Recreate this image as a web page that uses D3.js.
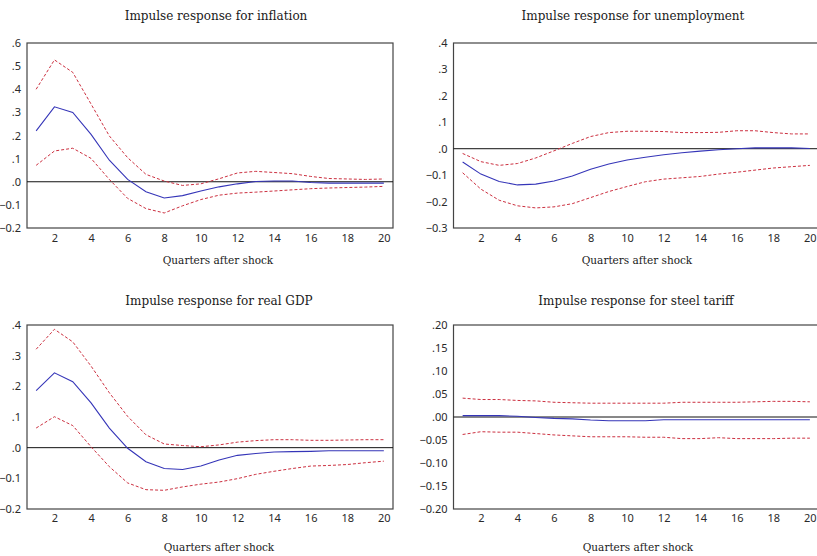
<!DOCTYPE html>
<html>
<head>
<meta charset="utf-8">
<script src="https://cdn.jsdelivr.net/npm/d3@7"></script>
<style>
  html, body { margin: 0; padding: 0; background: #fff; }
  svg { display: block; }
</style>
</head>
<body>
<svg id="chart" width="817" height="556"></svg>
<script>
// ---- data ----
const quarters = d3.range(1, 21);
const xTicks = [2, 4, 6, 8, 10, 12, 14, 16, 18, 20];

const titles = [
  "Impulse response for inflation",
  "Impulse response for unemployment",
  "Impulse response for real GDP",
  "Impulse response for steel tariff"
];
const xLabel = "Quarters after shock";

const inflationMid   = [0.22, 0.324, 0.30, 0.205, 0.093, 0.01, -0.043, -0.07, -0.06, -0.04, -0.022, -0.009, 0.001, 0.003, 0.003, -0.003, -0.006, -0.006, -0.006, -0.006];
const inflationUpper = [0.40, 0.527, 0.473, 0.336, 0.198, 0.104, 0.032, 0.003, -0.016, -0.009, 0.013, 0.038, 0.045, 0.04, 0.035, 0.023, 0.014, 0.012, 0.01, 0.012];
const inflationLower = [0.071, 0.133, 0.145, 0.101, 0.01, -0.072, -0.116, -0.135, -0.104, -0.077, -0.058, -0.049, -0.045, -0.04, -0.035, -0.03, -0.027, -0.025, -0.023, -0.02];

const unempMid   = [-0.05, -0.096, -0.124, -0.137, -0.134, -0.122, -0.103, -0.078, -0.058, -0.043, -0.032, -0.023, -0.015, -0.009, -0.004, 0.0, 0.003, 0.003, 0.003, 0.001];
const unempUpper = [-0.018, -0.049, -0.063, -0.056, -0.035, -0.008, 0.02, 0.046, 0.061, 0.066, 0.066, 0.065, 0.061, 0.061, 0.062, 0.068, 0.068, 0.061, 0.056, 0.056];
const unempLower = [-0.091, -0.153, -0.195, -0.216, -0.224, -0.22, -0.208, -0.185, -0.162, -0.143, -0.125, -0.115, -0.11, -0.105, -0.096, -0.089, -0.081, -0.073, -0.068, -0.063];

const gdpMid   = [0.186, 0.244, 0.215, 0.146, 0.064, -0.002, -0.046, -0.068, -0.071, -0.06, -0.04, -0.025, -0.019, -0.014, -0.013, -0.012, -0.01, -0.01, -0.01, -0.01];
const gdpUpper = [0.321, 0.386, 0.345, 0.266, 0.179, 0.102, 0.042, 0.012, 0.007, 0.003, 0.009, 0.018, 0.023, 0.026, 0.026, 0.024, 0.024, 0.025, 0.026, 0.026];
const gdpLower = [0.064, 0.101, 0.072, 0.003, -0.062, -0.115, -0.137, -0.139, -0.128, -0.119, -0.112, -0.101, -0.087, -0.077, -0.068, -0.06, -0.058, -0.055, -0.049, -0.044];

const steelMid   = [0.003, 0.003, 0.003, 0.0015, -0.001, -0.003, -0.004, -0.0065, -0.008, -0.008, -0.008, -0.006, -0.006, -0.006, -0.006, -0.006, -0.006, -0.006, -0.006, -0.006];
const steelUpper = [0.041, 0.038, 0.038, 0.036, 0.035, 0.032, 0.031, 0.030, 0.030, 0.030, 0.030, 0.030, 0.032, 0.032, 0.032, 0.032, 0.033, 0.034, 0.034, 0.033];
const steelLower = [-0.038, -0.032, -0.033, -0.033, -0.036, -0.039, -0.041, -0.043, -0.043, -0.043, -0.044, -0.044, -0.047, -0.047, -0.045, -0.047, -0.047, -0.047, -0.046, -0.046];

const yTicks1 = [-0.2, -0.1, 0, 0.1, 0.2, 0.3, 0.4, 0.5, 0.6];
const yTicks2 = [-0.3, -0.2, -0.1, 0, 0.1, 0.2, 0.3, 0.4];
const yTicks3 = [-0.2, -0.1, 0, 0.1, 0.2, 0.3, 0.4];
const yTicks4 = [-0.20, -0.15, -0.10, -0.05, 0, 0.05, 0.10, 0.15, 0.20];

// ---- panel build ----
const panels = [
  { title: titles[0], mid: inflationMid, up: inflationUpper, lo: inflationLower, ticks: yTicks1, dec: 1,
    box: { x0: 27, x1: 393, y0: 43, y1: 228 }, titleX: 216, titleY: 20, labelX: 218, labelY: 264, tickY: 243 },
  { title: titles[1], mid: unempMid, up: unempUpper, lo: unempLower, ticks: yTicks2, dec: 1,
    box: { x0: 453.5, x1: 819, y0: 43, y1: 228 }, titleX: 633, titleY: 20, labelX: 637, labelY: 264, tickY: 243 },
  { title: titles[2], mid: gdpMid, up: gdpUpper, lo: gdpLower, ticks: yTicks3, dec: 1,
    box: { x0: 27, x1: 393, y0: 325, y1: 509 }, titleX: 219, titleY: 305, labelX: 219, labelY: 551, tickY: 523 },
  { title: titles[3], mid: steelMid, up: steelUpper, lo: steelLower, ticks: yTicks4, dec: 2,
    box: { x0: 453.5, x1: 819, y0: 325, y1: 509 }, titleX: 636, titleY: 305, labelX: 638, labelY: 551, tickY: 523 }
];

const svg = d3.select("#chart");
const serif = "'DejaVu Serif', 'Liberation Serif', serif";
const sans = "'Noto Sans', 'DejaVu Sans', sans-serif";

function fmt(v, dec) {
  let s = d3.format("." + dec + "f")(v);
  s = s.replace("-0.", "-.").replace(/^0\./, ".");
  return s;
}

panels.forEach(p => {
  const b = p.box;
  const x = d3.scaleLinear().domain([0.5, 20.5]).range([b.x0, b.x1]);
  const y = d3.scaleLinear().domain([p.ticks[0], p.ticks[p.ticks.length - 1]]).range([b.y1, b.y0]);
  const g = svg.append("g");

  // frame
  g.append("rect")
    .attr("x", b.x0).attr("y", b.y0)
    .attr("width", b.x1 - b.x0).attr("height", b.y1 - b.y0)
    .attr("fill", "none").attr("stroke", "#444").attr("stroke-width", 1.2);

  // y axis (labels only)
  const yAxis = d3.axisLeft(y).tickValues(p.ticks).tickSize(0).tickPadding(6)
    .tickFormat(d => fmt(d, p.dec));
  const ya = g.append("g").attr("transform", `translate(${b.x0},0)`).call(yAxis);
  ya.select(".domain").remove();
  ya.selectAll("text").attr("font-family", sans).attr("font-size", 11).attr("fill", "#2a2a2a");

  // x axis (labels only)
  const xAxis = d3.axisBottom(x).tickValues(xTicks).tickSize(0).tickPadding(0)
    .tickFormat(d3.format("d"));
  const xa = g.append("g").attr("transform", `translate(0,${p.tickY - 9})`).call(xAxis);
  xa.select(".domain").remove();
  xa.selectAll("text").attr("font-family", sans).attr("font-size", 11).attr("fill", "#2a2a2a");

  // zero line
  g.append("line")
    .attr("x1", b.x0).attr("x2", b.x1)
    .attr("y1", y(0)).attr("y2", y(0))
    .attr("stroke", "#111").attr("stroke-width", 1);

  const line = d3.line().x((d, i) => x(quarters[i])).y(d => y(d));

  g.append("path").datum(p.up).attr("d", line)
    .attr("fill", "none").attr("stroke", "#cc3040").attr("stroke-width", 1)
    .attr("stroke-dasharray", "3,2");
  g.append("path").datum(p.lo).attr("d", line)
    .attr("fill", "none").attr("stroke", "#cc3040").attr("stroke-width", 1)
    .attr("stroke-dasharray", "3,2");
  g.append("path").datum(p.mid).attr("d", line)
    .attr("fill", "none").attr("stroke", "#3535b8").attr("stroke-width", 1.1);

  // title
  svg.append("text").attr("x", p.titleX).attr("y", p.titleY)
    .attr("text-anchor", "middle").attr("font-family", serif)
    .attr("font-size", 12).attr("fill", "#1a1a1a").text(p.title);

  // x label
  svg.append("text").attr("x", p.labelX).attr("y", p.labelY)
    .attr("text-anchor", "middle").attr("font-family", serif)
    .attr("font-size", 10.5).attr("fill", "#1a1a1a").text(xLabel);
});
</script>
</body>
</html>
